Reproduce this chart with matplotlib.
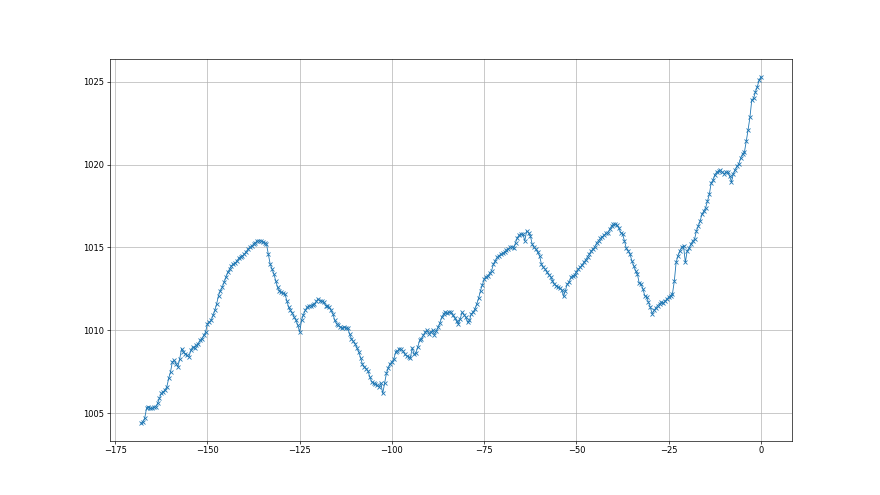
import matplotlib
matplotlib.use("Agg")
import matplotlib.pyplot as plt
import numpy as np

# hours relative to now, one reading every half hour over a week
hours = np.arange(-168, 0.5, 0.5)

# pressure readings (hPa); 10 values per row = 5 hours
pressure = [
    1004.4, 1004.5, 1004.7, 1005.3, 1005.4, 1005.3, 1005.3, 1005.35, 1005.4, 1005.6,      # -168
    1005.9, 1006.2, 1006.3, 1006.4, 1006.6, 1007.1, 1007.5, 1008.1, 1008.2, 1008.0,       # -163
    1007.8, 1008.3, 1008.9, 1008.7, 1008.6, 1008.5, 1008.4, 1008.8, 1009.0, 1008.95,      # -158
    1009.1, 1009.2, 1009.4, 1009.5, 1009.7, 1009.9, 1010.4, 1010.5, 1010.6, 1010.9,       # -153
    1011.2, 1011.6, 1012.1, 1012.4, 1012.6, 1012.9, 1013.2, 1013.5, 1013.7, 1013.9,       # -148
    1014.0, 1014.05, 1014.2, 1014.35, 1014.45, 1014.5, 1014.6, 1014.75, 1014.9, 1015.0,   # -143
    1015.1, 1015.2, 1015.3, 1015.4, 1015.4, 1015.4, 1015.35, 1015.3, 1015.2, 1014.6,      # -138
    1014.0, 1013.7, 1013.4, 1013.0, 1012.6, 1012.4, 1012.3, 1012.25, 1012.2, 1011.8,      # -133
    1011.4, 1011.2, 1011.05, 1010.8, 1010.6, 1010.3, 1009.9, 1010.6, 1010.95, 1011.2,     # -128
    1011.4, 1011.45, 1011.5, 1011.55, 1011.6, 1011.75, 1011.9, 1011.8, 1011.75, 1011.7,   # -123
    1011.5, 1011.45, 1011.4, 1011.2, 1011.0, 1010.6, 1010.4, 1010.3, 1010.2, 1010.15,     # -118
    1010.2, 1010.15, 1010.15, 1009.8, 1009.5, 1009.35, 1009.2, 1008.95, 1008.7, 1008.35,  # -113
    1007.95, 1007.8, 1007.7, 1007.55, 1007.2, 1006.9, 1006.8, 1006.75, 1006.7, 1006.6,    # -108
    1006.8, 1006.2, 1006.8, 1007.4, 1007.75, 1008.0, 1008.1, 1008.25, 1008.7, 1008.75,    # -103
    1008.9, 1008.85, 1008.75, 1008.55, 1008.45, 1008.4, 1008.35, 1008.95, 1008.55, 1008.65,  # -98
    1009.0, 1009.4, 1009.5, 1009.7, 1009.9, 1010.0, 1009.8, 1009.9, 1010.0, 1009.75,      # -93
    1009.95, 1010.2, 1010.45, 1010.8, 1011.0, 1011.1, 1011.05, 1011.1, 1011.1, 1010.9,    # -88
    1010.75, 1010.55, 1010.4, 1010.7, 1011.1, 1010.95, 1010.8, 1010.5, 1010.6, 1011.0,    # -83
    1011.1, 1011.3, 1011.6, 1011.95, 1012.4, 1012.75, 1013.1, 1013.25, 1013.3, 1013.45,   # -78
    1013.6, 1014.0, 1014.2, 1014.4, 1014.5, 1014.6, 1014.65, 1014.7, 1014.85, 1014.9,     # -73
    1015.0, 1015.05, 1014.95, 1015.3, 1015.6, 1015.75, 1015.8, 1015.8, 1015.4, 1016.0,    # -68
    1015.9, 1015.7, 1015.2, 1015.0, 1014.9, 1014.7, 1014.5, 1014.0, 1013.8, 1013.7,       # -63
    1013.5, 1013.35, 1013.25, 1013.0, 1012.8, 1012.7, 1012.6, 1012.55, 1012.45, 1012.05,  # -58
    1012.4, 1012.8, 1012.9, 1013.2, 1013.3, 1013.35, 1013.55, 1013.7, 1013.8, 1013.95,    # -53
    1014.1, 1014.25, 1014.45, 1014.6, 1014.8, 1014.9, 1015.05, 1015.3, 1015.4, 1015.55,   # -48
    1015.65, 1015.75, 1015.85, 1015.9, 1016.1, 1016.3, 1016.4, 1016.4, 1016.35, 1016.15,  # -43
    1015.9, 1015.8, 1015.4, 1014.95, 1014.8, 1014.6, 1014.2, 1013.9, 1013.6, 1013.4,      # -38
    1012.85, 1012.8, 1012.5, 1012.1, 1012.0, 1011.7, 1011.4, 1011.0, 1011.2, 1011.35,     # -33
    1011.5, 1011.6, 1011.7, 1011.65, 1011.75, 1011.9, 1012.0, 1012.1, 1012.2, 1012.95,    # -28
    1014.1, 1014.5, 1014.8, 1015.0, 1015.1, 1014.1, 1014.8, 1014.95, 1015.2, 1015.4,      # -23
    1015.5, 1016.0, 1016.3, 1016.6, 1017.0, 1017.2, 1017.4, 1017.8, 1018.2, 1018.9,       # -18
    1019.05, 1019.4, 1019.55, 1019.6, 1019.65, 1019.55, 1019.45, 1019.55, 1019.55, 1019.3,  # -13
    1018.95, 1019.45, 1019.7, 1019.9, 1020.05, 1020.4, 1020.65, 1020.75, 1021.4, 1022.1,  # -8
    1022.85, 1023.9, 1024.0, 1024.4, 1024.7, 1025.1, 1025.3,                             # -3
]

fig, ax = plt.subplots(figsize=(880 / 60, 495 / 60), dpi=60)
ax.plot(hours, pressure, marker="x", markersize=5, linewidth=1)
ax.grid(True)

fig.savefig("out.png", dpi=60)
